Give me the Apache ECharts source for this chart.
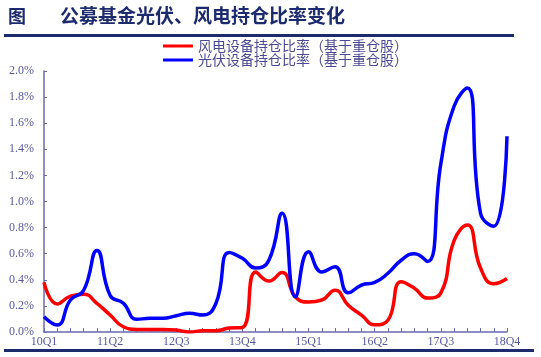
<!DOCTYPE html>
<html>
<head>
<meta charset="utf-8">
<script src="https://cdn.jsdelivr.net/npm/echarts@6/dist/echarts.min.js"></script>
<style>html,body{margin:0;padding:0;background:#fff}#c{width:541px;height:357px}</style>
</head>
<body>
<div id="c"></div>
<script>
const categories = ['10Q1','10Q2','10Q3','10Q4','11Q1','11Q2','11Q3','11Q4','12Q1','12Q2','12Q3','12Q4',
  '13Q1','13Q2','13Q3','13Q4','14Q1','14Q2','14Q3','14Q4','15Q1','15Q2','15Q3','15Q4',
  '16Q1','16Q2','16Q3','16Q4','17Q1','17Q2','17Q3','17Q4','18Q1','18Q2','18Q3','18Q4'];
const windValues = [0.38,0.215,0.275,0.29,0.22,0.13,0.04,0.02,0.02,0.02,0.015,0.0,
  0.01,0.01,0.03,0.035,0.46,0.39,0.455,0.27,0.23,0.245,0.32,0.205,
  0.13,0.055,0.09,0.385,0.335,0.26,0.30,0.70,0.82,0.49,0.37,0.41];
const pvValues = [0.117,0.054,0.245,0.32,0.625,0.28,0.22,0.097,0.105,0.105,0.125,0.143,
  0.13,0.22,0.61,0.565,0.49,0.55,0.91,0.27,0.615,0.46,0.50,0.30,
  0.36,0.38,0.45,0.55,0.60,0.54,1.29,1.73,1.87,0.91,0.81,1.50];
const seriesNames = ['风电设备持仓比率（基于重仓股）','光伏设备持仓比率（基于重仓股）'];
const yTicks = {min:0, max:2.0, interval:0.2};
const titleMain = '公募基金光伏、风电持仓比率变化';

const navy = '#1c2a6e';
const axisColor = '#6a6ab0';
const labelColor = '#5858a0';
const chart = echarts.init(document.getElementById('c'));
chart.setOption({
  animation:false,
  backgroundColor:'#fff',
  grid:{left:44, right:34, top:71, bottom:25, containLabel:false},
  legend:{
    orient:'vertical', left:158, top:34, itemWidth:30, itemHeight:3, itemGap:0,
    icon:'rect',
    textStyle:{color:'#4a4a92', fontSize:14, fontFamily:'Noto Sans CJK SC'},
    data:seriesNames
  },
  graphic:[
    {type:'text', left:8, top:7, style:{text:'图', fill:navy, font:'bold 18px "Noto Sans CJK SC"'}},
    {type:'text', left:60, top:6, style:{text:titleMain, fill:navy, font:'bold 19px "Noto Sans CJK SC"'}},
    {type:'rect', shape:{x:4, y:34, width:510, height:3}, style:{fill:navy}},
    {type:'rect', shape:{x:4, y:349, width:530, height:3}, style:{fill:navy}}
  ],
  xAxis:{
    type:'category', data:categories, boundaryGap:false,
    axisLine:{lineStyle:{color:axisColor, width:1.5}},
    axisTick:{show:true, inside:true, length:4, interval:0, lineStyle:{color:axisColor}},
    axisLabel:{interval:4, color:labelColor, fontSize:12, fontFamily:'Liberation Serif', margin:4}
  },
  yAxis:{
    type:'value', min:yTicks.min, max:yTicks.max, interval:yTicks.interval,
    splitLine:{show:false},
    axisLine:{show:true, lineStyle:{color:axisColor, width:1.5}},
    axisTick:{show:true, inside:true, length:3, lineStyle:{color:axisColor}},
    axisLabel:{color:labelColor, fontSize:12, fontFamily:'Liberation Serif', margin:10,
      formatter:v=>v.toFixed(1)+'%'}
  },
  series:[
    {name:seriesNames[0], type:'line', data:windValues, smooth:0.5, symbol:'none',
      lineStyle:{color:'#ff0000', width:3.5}, itemStyle:{color:'#ff0000'}},
    {name:seriesNames[1], type:'line', data:pvValues, smooth:0.5, symbol:'none',
      lineStyle:{color:'#0000ff', width:3.5}, itemStyle:{color:'#0000ff'}}
  ]
});
</script>
</body>
</html>
